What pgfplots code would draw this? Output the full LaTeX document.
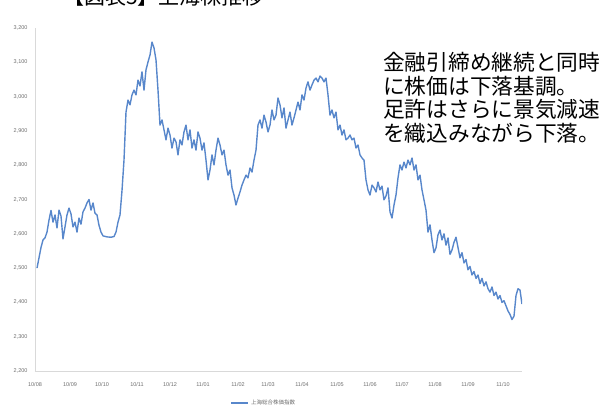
\documentclass[border=0pt]{standalone}
\usepackage{pgfplots}
\pgfplotsset{compat=1.18}
\usepackage{fontspec}
\setmainfont{Liberation Sans}
\newfontfamily\jp{Noto Sans CJK JP}
\definecolor{sline}{RGB}{88,135,203}
\definecolor{axgray}{RGB}{217,217,217}
\definecolor{tkgray}{RGB}{110,110,110}
\begin{document}
\begin{tikzpicture}
\useasboundingbox (0pt,0pt) rectangle (605pt,-407pt);
\node[anchor=base west, font=\jp\fontsize{21}{23}\selectfont, inner sep=0] at (63pt,-4.5pt) {【図表5】上海株推移};
\node[anchor=base west, font=\jp\fontsize{21.7}{23}\selectfont, inner sep=0] at (383pt,-70pt) {金融引締め継続と同時};
\node[anchor=base west, font=\jp\fontsize{21.7}{23}\selectfont, inner sep=0] at (383pt,-94pt) {に株価は下落基調。};
\node[anchor=base west, font=\jp\fontsize{21.7}{23}\selectfont, inner sep=0] at (383pt,-117.5pt) {足許はさらに景気減速};
\node[anchor=base west, font=\jp\fontsize{21.7}{23}\selectfont, inner sep=0] at (383pt,-141.5pt) {を織込みながら下落。};
\begin{axis}[
  at={(35pt,-371pt)}, anchor=south west,
  scale only axis, width=487pt, height=343pt,
  xmin=35, xmax=522, ymin=2200, ymax=3200,
  axis x line*=bottom, axis y line*=left,
  axis line style={draw=axgray, line width=0.8pt},
  major tick length=0pt,
  ytick={2200,2300,...,3200},
  xtick={35,70,102,137,170,203,238,268,302,337,370,402,435,468,503},
  xticklabels={10/08,10/09,10/10,10/11,10/12,11/01,11/02,11/03,11/04,11/05,11/06,11/07,11/08,11/09,11/10},
  /pgf/number format/.cd, 1000 sep={,}, assume math mode=true,
  /pgfplots/.cd,
  tick label style={font=\fontsize{5.5}{6}\selectfont, text=tkgray},
  yticklabel style={xshift=-4pt},
  xticklabel style={yshift=-8pt},
  legend style={at={(0.47,-0.093)}, anchor=center, draw=none, fill=none,
    font=\jp\fontsize{5.5}{6}\selectfont, text=tkgray},
  legend image post style={line width=1.5pt},
]
\addplot[color=sline, line width=1.4pt, no marks, line join=round] coordinates {
(37,2500)(39,2530)(41,2560)(43,2582)(45,2588)(47,2605)(49,2640)(51,2668)(53,2634)(55,2655)
(57,2617)(59,2669)(61,2652)(63,2585)(65,2620)(67,2655)(69,2675)(71,2658)(73,2620)(75,2634)
(77,2605)(79,2646)(81,2628)(83,2664)(85,2675)(87,2690)(89,2700)(91,2669)(93,2690)(95,2660)
(97,2655)(99,2625)(101,2605)(103,2594)(107,2591)(111,2590)(114,2592)(116,2605)(118,2634)(120,2655)
(122,2726)(124,2815)(126,2955)(128,2990)(130,2976)(132,3005)(134,3019)(136,3005)(138,3048)(140,3031)
(142,3072)(144,3019)(146,3078)(148,3101)(150,3121)(152,3159)(154,3142)(156,3107)(158,3019)(160,2917)
(162,2932)(164,2903)(166,2874)(168,2908)(170,2888)(172,2850)(174,2879)(176,2868)(178,2830)(180,2874)
(182,2859)(184,2897)(186,2917)(188,2874)(190,2903)(192,2850)(194,2874)(196,2844)(198,2897)(200,2879)
(202,2844)(204,2865)(206,2815)(208,2757)(210,2786)(212,2830)(214,2801)(216,2844)(218,2879)(220,2859)
(222,2830)(224,2844)(226,2801)(228,2771)(230,2786)(232,2734)(234,2713)(236,2684)(238,2704)(240,2722)
(242,2742)(244,2757)(246,2771)(248,2763)(250,2792)(252,2780)(254,2815)(256,2844)(258,2917)(260,2932)
(262,2908)(264,2946)(266,2926)(268,2897)(270,2917)(272,2961)(274,2932)(276,2946)(278,2996)(280,2976)
(282,2938)(284,2967)(286,2908)(288,2932)(290,2955)(292,2917)(294,2938)(296,2961)(298,2984)(300,2961)
(302,3005)(304,2990)(306,3025)(308,3043)(310,3019)(312,3034)(314,3048)(316,3054)(318,3043)(320,3060)
(322,3054)(324,3043)(326,3054)(328,3005)(330,2946)(332,2961)(334,2938)(336,2955)(338,2903)(340,2917)
(342,2888)(344,2903)(346,2874)(348,2879)(350,2888)(352,2874)(354,2879)(356,2850)(358,2859)(360,2830)
(362,2821)(364,2815)(366,2757)(368,2728)(370,2713)(372,2742)(374,2734)(376,2722)(378,2751)(380,2728)
(382,2739)(384,2699)(386,2710)(388,2734)(390,2664)(392,2646)(394,2684)(396,2713)(398,2763)(400,2801)
(402,2786)(404,2809)(406,2792)(408,2815)(410,2801)(412,2821)(414,2786)(416,2801)(418,2757)(420,2771)
(422,2728)(424,2699)(426,2669)(428,2605)(430,2626)(432,2582)(434,2545)(436,2559)(438,2597)(440,2611)
(442,2582)(444,2600)(446,2567)(448,2588)(450,2540)(452,2553)(454,2575)(456,2590)(458,2560)(460,2530)
(462,2545)(464,2515)(466,2525)(468,2495)(470,2505)(472,2480)(474,2490)(476,2470)(478,2480)(480,2455)
(482,2470)(484,2448)(486,2460)(488,2440)(490,2430)(492,2445)(494,2420)(496,2430)(498,2410)(500,2420)
(502,2400)(504,2405)(506,2390)(508,2375)(510,2365)(512,2350)(514,2360)(516,2420)(518,2440)(520,2436)
(522,2395)
};
\addlegendentry{上海総合株価指数}
\end{axis}
\end{tikzpicture}
\end{document}
